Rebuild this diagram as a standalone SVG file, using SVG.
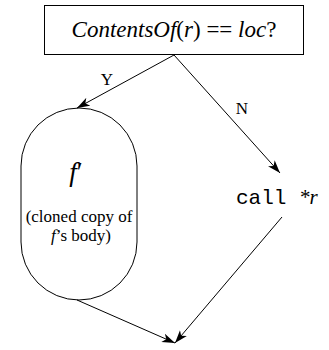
<svg xmlns="http://www.w3.org/2000/svg" width="329" height="350" viewBox="0 0 329 350">
<style>
.ln{fill:none;stroke:#000;stroke-width:1}
.i{font-style:italic}
</style>
<defs>
<marker id="ah" viewBox="-13 -5 14 10" refX="0" refY="0" markerWidth="14" markerHeight="10" markerUnits="userSpaceOnUse" orient="auto">
<path d="M0,0 L-13,-4.5 L-9.5,0 L-13,4.5 Z" fill="#000"/>
</marker>
</defs>
<g id="decision">
<rect x="44.5" y="5.5" width="259" height="49" fill="#fff" stroke="#000"/>
<text font-family="Liberation Serif, Times New Roman, serif" x="174" y="37" font-size="23" text-anchor="middle"><tspan class="i">ContentsOf</tspan>(<tspan class="i">r</tspan>) == <tspan class="i">loc</tspan>?</text>
</g>
<g id="clone">
<path class="ln" d="M21,166 A58,58 0 0 1 137,166 L137,242 A58,58 0 0 1 21,242 Z"/>
<text font-family="Liberation Serif, Times New Roman, serif" x="76" y="181" font-size="27" text-anchor="middle"><tspan class="i">f</tspan>′</text>
<text font-family="Liberation Serif, Times New Roman, serif" x="79" y="222" font-size="17" text-anchor="middle">(cloned copy of</text>
<text font-family="Liberation Serif, Times New Roman, serif" x="81" y="241" font-size="17" text-anchor="middle"><tspan class="i">f</tspan>’s body)</text>
</g>
<g id="call">
<text font-family="Liberation Serif, Times New Roman, serif" x="236" y="204" font-size="21"><tspan font-family="Liberation Mono, Courier New, monospace">call </tspan><tspan class="i">*r</tspan></text>
</g>
<g id="connectors">
<line class="ln" x1="174" y1="55" x2="77" y2="108" marker-end="url(#ah)"/>
<line class="ln" x1="174" y1="55" x2="280" y2="173" marker-end="url(#ah)"/>
<line class="ln" x1="77" y1="300" x2="175" y2="343" marker-end="url(#ah)"/>
<line class="ln" x1="282" y1="217" x2="175" y2="343" marker-end="url(#ah)"/>
<text font-family="Liberation Serif, Times New Roman, serif" x="107" y="85" font-size="17" text-anchor="middle">Y</text>
<text font-family="Liberation Serif, Times New Roman, serif" x="242" y="114" font-size="17" text-anchor="middle">N</text>
</g>
</svg>
